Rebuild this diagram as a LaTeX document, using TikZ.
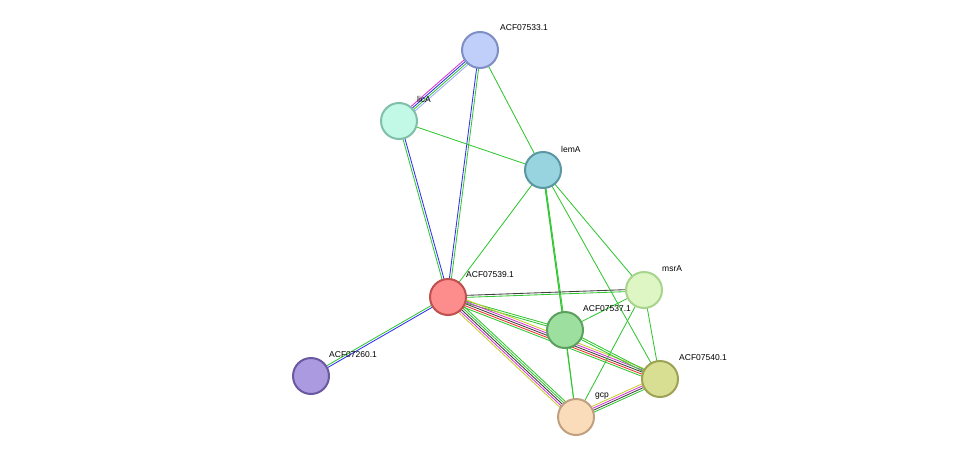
\documentclass[tikz,border=0pt]{standalone}
\usepackage{fontspec}
\setmainfont{Liberation Sans}
\usetikzlibrary{calc,backgrounds}
\definecolor{eg}{HTML}{33C633}
\definecolor{eb}{HTML}{3030F0}
\definecolor{em}{HTML}{D535D5}
\definecolor{ek}{HTML}{404040}
\definecolor{er}{HTML}{F03030}
\definecolor{ey}{HTML}{C8CC30}
\definecolor{el}{HTML}{9FA8F5}
\definecolor{f1}{HTML}{C0CFFA}\definecolor{d1}{HTML}{7F8FC4}
\definecolor{f2}{HTML}{C2F9E6}\definecolor{d2}{HTML}{80BFA8}
\definecolor{f3}{HTML}{98D3E0}\definecolor{d3}{HTML}{5B96A3}
\definecolor{f4}{HTML}{FD8D8D}\definecolor{d4}{HTML}{C05050}
\definecolor{f5}{HTML}{DDF6C4}\definecolor{d5}{HTML}{A8D48E}
\definecolor{f6}{HTML}{9DDF9F}\definecolor{d6}{HTML}{5BA05E}
\definecolor{f7}{HTML}{D9DF92}\definecolor{d7}{HTML}{9EA255}
\definecolor{f8}{HTML}{FBDCBA}\definecolor{d8}{HTML}{C0A080}
\definecolor{f9}{HTML}{AC9AE0}\definecolor{d9}{HTML}{6A58A0}
\newcommand\medge[3]{\foreach \o/\c in {#3}{\draw[\c,line width=0.85pt] ($(#1)!\o pt!90:(#2)$) -- ($(#2)!\o pt!-90:(#1)$);}}
\tikzset{prot/.style={circle,minimum size=36pt,inner sep=0pt,line width=2pt,fill=f#1,draw=d#1},
lab/.style={font=\fontsize{8.5}{10}\selectfont,anchor=west,inner sep=1pt}}
\begin{document}
\begin{tikzpicture}[x=1pt,y=-1pt]
\useasboundingbox (0,0) rectangle (976,463);
\node[prot=1] (a533) at (480,50) {};
\node[prot=2] (lic) at (399,121) {};
\node[prot=3] (lem) at (543,170) {};
\node[prot=4] (a539) at (448,297) {};
\node[prot=5] (msr) at (644,290) {};
\node[prot=6] (a537) at (565,330) {};
\node[prot=7] (a540) at (660,379) {};
\node[prot=8] (gcp) at (576,417) {};
\node[prot=9] (a260) at (311,376) {};
\begin{scope}[on background layer]
\medge{a533}{lic}{-3/em,-1/eb,1/eg,3/el}
\medge{a533}{a539}{-1/eb,1/eg}
\medge{a533}{lem}{0/eg}
\medge{lic}{lem}{0/eg}
\medge{lic}{a539}{-1/eg,1/eb}
\medge{lem}{a539}{0/eg}
\medge{lem}{a537}{-0.5/eg,0.5/eg}
\medge{lem}{gcp}{0/eg}
\medge{lem}{msr}{0/eg}
\medge{lem}{a540}{0/eg}
\medge{a539}{msr}{-1/eg,1/ek}
\medge{a539}{a537}{-1/eg,1/eg}
\medge{a539}{a540}{-4/eg,-2/er,0/ek,2/em,4/ey}
\medge{a539}{gcp}{-4/ey,-2/em,0/ek,2/eg,4/eg}
\medge{a539}{a260}{-1/eg,1/eb}
\medge{gcp}{a540}{-3/eg,-1/ek,1/em,3/ey}
\medge{msr}{a537}{0/eg}
\medge{msr}{gcp}{0/eg}
\medge{msr}{a540}{0/eg}
\medge{a537}{a540}{-1/eg,1/eg}
\medge{a537}{gcp}{0/eg}
\end{scope}
\node[lab] at (499,28) {ACF07533.1};
\node[lab] at (416,99) {licA};
\node[lab] at (560,149) {lemA};
\node[lab] at (465,275) {ACF07539.1};
\node[lab] at (661,269) {msrA};
\node[lab] at (582,309) {ACF07537.1};
\node[lab] at (678,358) {ACF07540.1};
\node[lab] at (594,396) {gcp};
\node[lab] at (328,355) {ACF07260.1};
\end{tikzpicture}
\end{document}
